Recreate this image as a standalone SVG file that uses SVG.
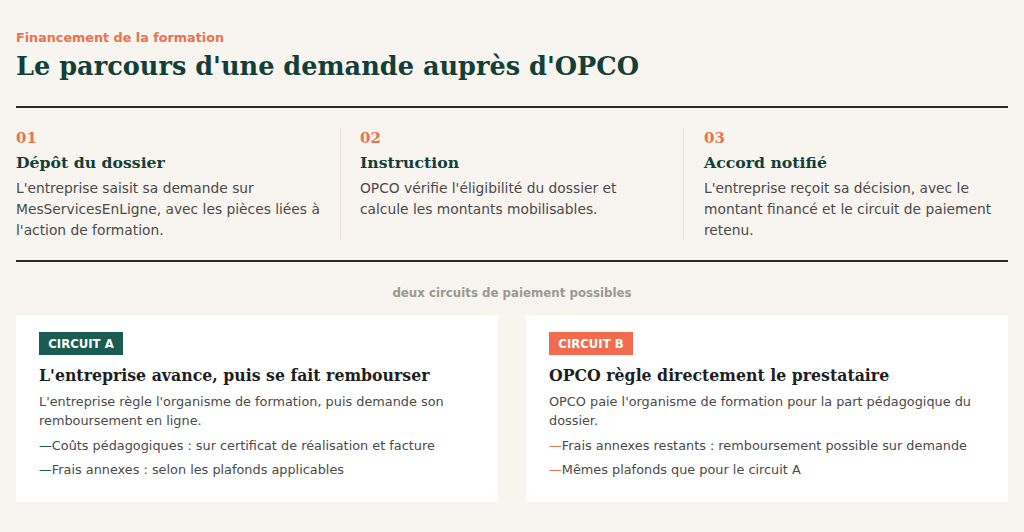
<svg xmlns="http://www.w3.org/2000/svg" width="1024" height="532" viewBox="0 0 1024 532">
<style>
.eyebrow{font-family:"DejaVu Sans",sans-serif;font-weight:bold;font-size:12.75px;fill:#e8734f}
.title{font-family:"DejaVu Serif",serif;font-weight:bold;font-size:25.6px;fill:#123f38}
.num{font-family:"DejaVu Serif",serif;font-weight:bold;font-size:15px;fill:#e8734f}
.sh{font-family:"DejaVu Serif",serif;font-weight:bold;font-size:15.7px;fill:#123f38}
.sb{font-family:"DejaVu Sans",sans-serif;font-size:13.8px;fill:#4a4a4a}
.rule{stroke:#2a2a26;stroke-width:2}
.div{stroke:#e6e0d8;stroke-width:1}
.mid{font-family:"DejaVu Sans",sans-serif;font-weight:bold;font-size:11.8px;fill:#9a9a92}
.card{fill:#ffffff}
.badge{font-family:"DejaVu Sans",sans-serif;font-weight:bold;font-size:11.7px;fill:#ffffff}
.ch{font-family:"DejaVu Serif",serif;font-weight:bold;font-size:15.75px;fill:#1e1e1e}
.cb{font-family:"DejaVu Sans",sans-serif;font-size:12.85px;fill:#4a4a4a}
.dashA{fill:#1a5c52}
.dashB{fill:#e8734f}
</style>
<rect width="1024" height="532" fill="#f8f4ef"/>
<g id="header">
<text class="eyebrow" x="16" y="42">Financement de la formation</text>
<text class="title" x="16" y="75">Le parcours d'une demande auprès d'OPCO</text>
</g>
<g id="connectors">
<line class="rule" x1="16" y1="107" x2="1008" y2="107"/>
<line class="div" x1="340.5" y1="128" x2="340.5" y2="240"/>
<line class="div" x1="683.5" y1="128" x2="683.5" y2="240"/>
<line class="rule" x1="16" y1="261" x2="1008" y2="261"/>
</g>
<g id="step1">
<text class="num" x="16" y="143">01</text>
<text class="sh" x="16" y="168">Dépôt du dossier</text>
<text class="sb" x="16" y="193">L'entreprise saisit sa demande sur</text>
<text class="sb" x="16" y="214">MesServicesEnLigne, avec les pièces liées à</text>
<text class="sb" x="16" y="235">l'action de formation.</text>
</g>
<g id="step2">
<text class="num" x="360" y="143">02</text>
<text class="sh" x="360" y="168">Instruction</text>
<text class="sb" x="360" y="193">OPCO vérifie l'éligibilité du dossier et</text>
<text class="sb" x="360" y="214">calcule les montants mobilisables.</text>
</g>
<g id="step3">
<text class="num" x="704" y="143">03</text>
<text class="sh" x="704" y="168">Accord notifié</text>
<text class="sb" x="704" y="193">L'entreprise reçoit sa décision, avec le</text>
<text class="sb" x="704" y="214">montant financé et le circuit de paiement</text>
<text class="sb" x="704" y="235">retenu.</text>
</g>
<g id="divider-label">
<text class="mid" x="512" y="297" text-anchor="middle">deux circuits de paiement possibles</text>
</g>
<g id="circuitA">
<rect class="card" x="16" y="315" width="482" height="187"/>
<rect x="39" y="332" width="84" height="23" fill="#1a5c52"/>
<text class="badge" x="81" y="348" text-anchor="middle">CIRCUIT A</text>
<text class="ch" x="39" y="381">L'entreprise avance, puis se fait rembourser</text>
<text class="cb" x="39" y="406">L'entreprise règle l'organisme de formation, puis demande son</text>
<text class="cb" x="39" y="425">remboursement en ligne.</text>
<text class="cb" x="39" y="450"><tspan class="dashA">—</tspan>Coûts pédagogiques : sur certificat de réalisation et facture</text>
<text class="cb" x="39" y="474"><tspan class="dashA">—</tspan>Frais annexes : selon les plafonds applicables</text>
</g>
<g id="circuitB">
<rect class="card" x="526" y="315" width="482" height="187"/>
<rect x="549" y="332" width="84" height="23" fill="#f26b4e"/>
<text class="badge" x="591" y="348" text-anchor="middle">CIRCUIT B</text>
<text class="ch" x="549" y="381">OPCO règle directement le prestataire</text>
<text class="cb" x="549" y="406">OPCO paie l'organisme de formation pour la part pédagogique du</text>
<text class="cb" x="549" y="425">dossier.</text>
<text class="cb" x="549" y="450"><tspan class="dashB">—</tspan>Frais annexes restants : remboursement possible sur demande</text>
<text class="cb" x="549" y="474"><tspan class="dashB">—</tspan>Mêmes plafonds que pour le circuit A</text>
</g>
</svg>
